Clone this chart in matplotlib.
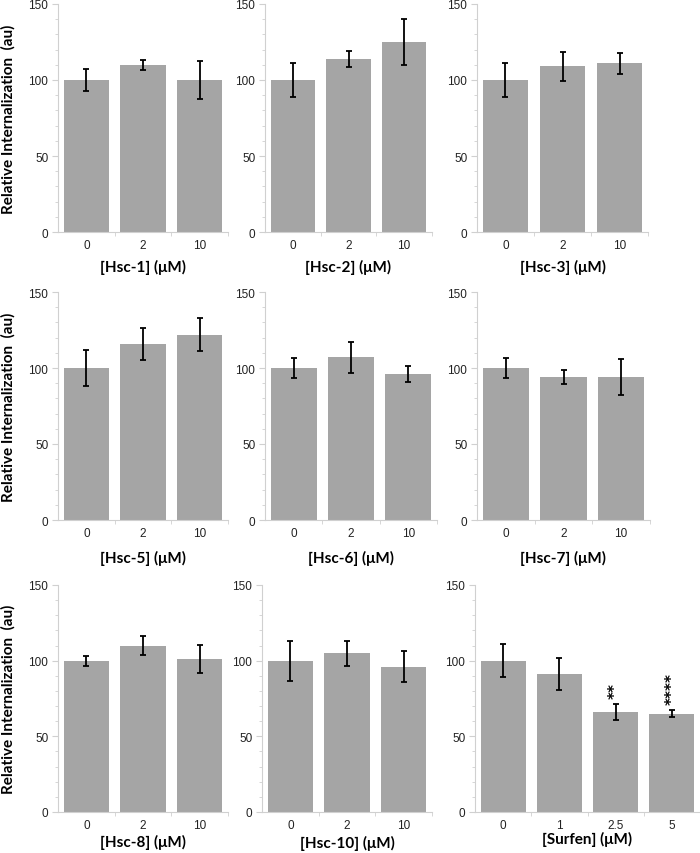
import numpy as np
import matplotlib.pyplot as plt

# doses on the x axis
hsc_doses = ["0", "2", "10"]
surfen_doses = ["0", "1", "2.5", "5"]

# relative internalization (au), mean and error per dose
hsc1_mean = [100, 110, 100]
hsc1_err = [7.4, 3.3, 12.2]
hsc2_mean = [100, 114, 125]
hsc2_err = [11.5, 5.3, 15.1]
hsc3_mean = [100, 109, 111]
hsc3_err = [11, 9.4, 7]
hsc5_mean = [100, 116, 122]
hsc5_err = [12, 10.6, 10.7]
hsc6_mean = [100, 107, 96]
hsc6_err = [6.6, 10, 5]
hsc7_mean = [100, 94, 94]
hsc7_err = [6.4, 4.6, 11.9]
hsc8_mean = [100, 110, 101]
hsc8_err = [3.4, 6.3, 9.1]
hsc10_mean = [100, 105, 96]
hsc10_err = [13.2, 8.3, 10.2]
surfen_mean = [100, 91, 66, 65]
surfen_err = [11, 10.7, 5.5, 2.2]
surfen_stars = ["", "", "**", "****"]

panel_names = ["[Hsc-1] (\u03bcM)", "[Hsc-2] (\u03bcM)", "[Hsc-3] (\u03bcM)",
               "[Hsc-5] (\u03bcM)", "[Hsc-6] (\u03bcM)", "[Hsc-7] (\u03bcM)",
               "[Hsc-8] (\u03bcM)", "[Hsc-10] (\u03bcM)", "[Surfen] (\u03bcM)"]
panel_means = [hsc1_mean, hsc2_mean, hsc3_mean, hsc5_mean, hsc6_mean,
               hsc7_mean, hsc8_mean, hsc10_mean, surfen_mean]
panel_errs = [hsc1_err, hsc2_err, hsc3_err, hsc5_err, hsc6_err,
              hsc7_err, hsc8_err, hsc10_err, surfen_err]

W, H = 700, 854
# axes boxes in pixels: left, right, top, bottom
boxes = [(58, 228, 5, 233), (265, 432, 5, 233), (477, 648, 5, 233),
         (58, 228, 293, 521), (265, 437, 293, 521), (477, 650, 293, 521),
         (58, 228, 586, 813), (262, 432, 586, 813), (475, 700, 586, 813)]
label_pads = [6, 6, 6, 8, 8, 8, 2, 3, 0]

bar_color = "#a5a5a5"
spine_color = "#d0d0d0"
tick_font = "Liberation Sans"
label_font = "Lato"

fig = plt.figure(figsize=(W / 100, H / 100), dpi=100)

for k in range(9):
    l, r, t, b = boxes[k]
    ax = fig.add_axes([l / W, 1 - b / H, (r - l) / W, (b - t) / H])
    means = panel_means[k]
    errs = panel_errs[k]
    doses = surfen_doses if k == 8 else hsc_doses
    x = np.arange(len(means))
    ax.bar(x, means, width=0.8, color=bar_color, zorder=2)
    ax.errorbar(x, means, yerr=errs, fmt="none", ecolor="black",
                elinewidth=1.3, capsize=2, capthick=1.3, zorder=3)
    if k == 8:
        for xi, m, e, s in zip(x, means, errs, surfen_stars):
            if s:
                ax.text(xi, m + e + 4, s, rotation=90, ha="center", va="bottom",
                        fontsize=11, fontweight="bold", family="DejaVu Sans")

    ax.set_xlim(-0.5, len(means) - 0.5)
    ax.set_ylim(0, 150)
    ax.set_yticks([0, 50, 100, 150])
    ax.set_yticks(np.arange(0, 151, 10), minor=True)
    ax.set_xticks(x)
    ax.set_xticklabels(doses)
    ax.set_xticks(np.arange(0.5, len(means), 1.0), minor=True)
    ax.tick_params(axis="x", which="major", length=0, pad=5)
    ax.tick_params(axis="x", which="minor", length=3, color=spine_color)
    ax.tick_params(axis="y", which="major", length=4, color=spine_color, pad=3)
    ax.tick_params(axis="y", which="minor", length=2, color=spine_color)
    for lab in ax.get_xticklabels() + ax.get_yticklabels():
        lab.set_fontsize(8.5)
        lab.set_family(tick_font)
        lab.set_color("#222222")

    for side in ["top", "right"]:
        ax.spines[side].set_visible(False)
    for side in ["left", "bottom"]:
        ax.spines[side].set_color(spine_color)
        ax.spines[side].set_linewidth(0.8)

    ax.set_xlabel(panel_names[k], fontsize=11, fontweight="bold",
                  family=[label_font, "DejaVu Sans"], labelpad=label_pads[k])
    if k % 3 == 0:
        ax.set_ylabel("Relative Internalization  (au)", fontsize=11,
                      fontweight="bold", family=label_font, labelpad=9)

fig.savefig("out.png", dpi=100)
